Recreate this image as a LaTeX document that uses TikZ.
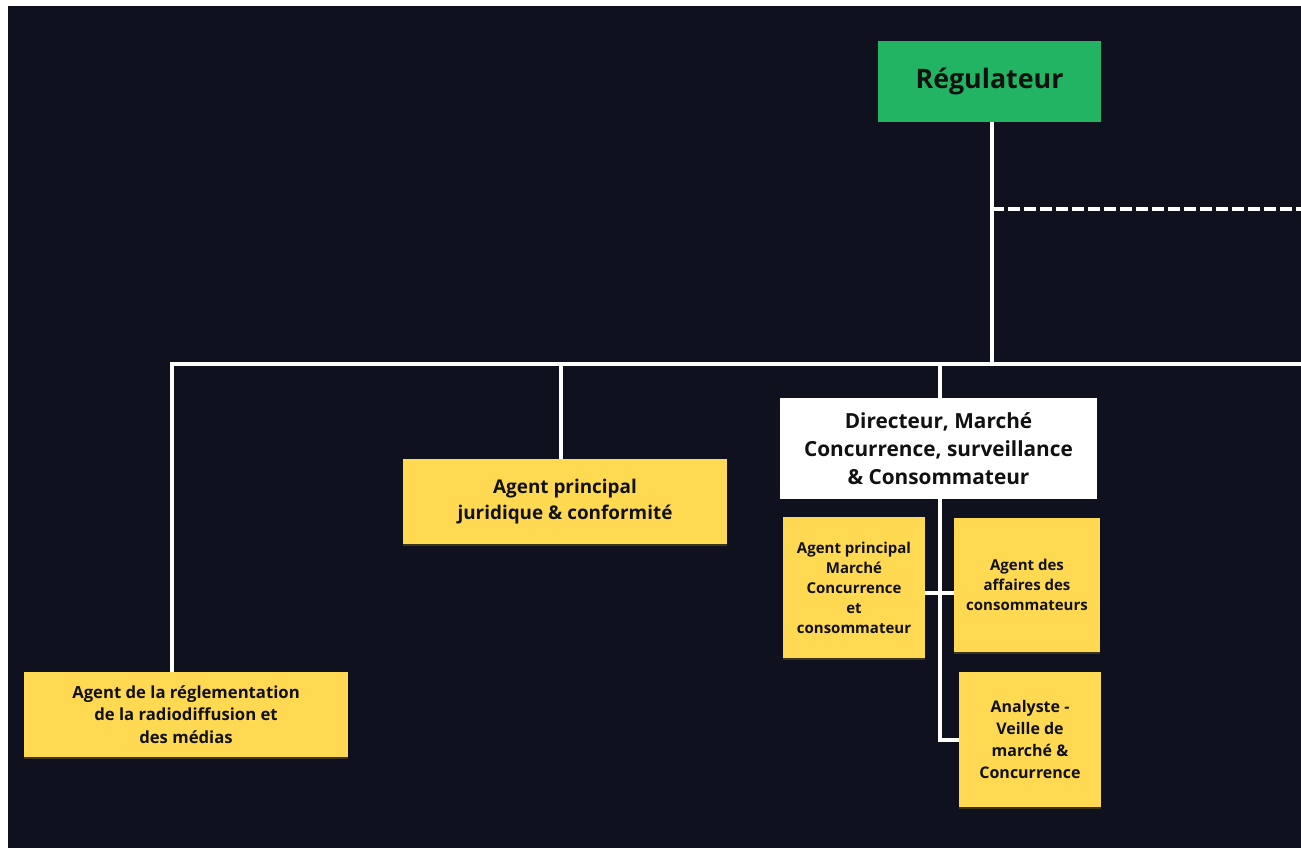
\documentclass[tikz,border=0pt]{standalone}
\usepackage{fontspec}
\setmainfont{Open Sans}
\usetikzlibrary{shadows}
\definecolor{bgdark}{HTML}{10111F}
\definecolor{reggreen}{HTML}{22B463}
\definecolor{boxyellow}{HTML}{FFD952}
\definecolor{txt}{HTML}{111111}
\begin{document}
\begin{tikzpicture}[x=1pt,y=-1pt,
  conn/.style={draw=white,line width=4pt},
  dashconn/.style={draw=white,line width=4pt,dash pattern=on 12pt off 4pt},
  box/.style={rectangle,inner sep=0pt,align=center,text=txt,font=\bfseries},
  ybox/.style={box,fill=boxyellow,drop shadow={shadow xshift=0pt,shadow yshift=-2pt,fill=boxyellow!35!black,opacity=0.6}},
]
\fill[white] (0,0) rectangle (1301,848);
\fill[bgdark] (8,6) rectangle (1301,848);
\useasboundingbox (0,0) rectangle (1301,848);

% coordinates for connectors
\coordinate (j0) at (992,364);
\coordinate (jl) at (172,364);
\coordinate (jm) at (561,364);
\coordinate (jd) at (940,364);
\coordinate (jr) at (1301,364);
\coordinate (dd) at (992,209);
\coordinate (dr) at (1301,209);
\coordinate (jb) at (940,740);

% nodes (geometry only first, for connectors drawn beneath)
\path node[box,minimum width=223pt,minimum height=81pt] (reg) at (989.5,81.5) {};
\path node[box,minimum width=317pt,minimum height=101pt] (dir) at (938.5,448.5) {};
\path node[box,minimum width=324pt,minimum height=85pt] (jur) at (565,501.5) {};
\path node[box,minimum width=324pt,minimum height=85pt] (rad) at (186,714.5) {};
\path node[box,minimum width=142pt,minimum height=141pt] (mar) at (854,587.5) {};
\path node[box,minimum width=146pt,minimum height=134pt] (aff) at (1027,585) {};
\path node[box,minimum width=142pt,minimum height=135pt] (ana) at (1030,739.5) {};

% connectors
\draw[conn] (reg.south -| j0) -- (j0);
\draw[dashconn] (dd) -- (dr);
\draw[conn] (rad.north -| jl) -- (jl) -- (jr);
\draw[conn] (jm) -- (jur.north -| jm);
\draw[conn] (jd) -- (jb) -- (ana.west |- jb);
\draw[conn] (mar.east |- 0,593) -- (aff.west |- 0,593);

% visible boxes
\node[box,fill=reggreen,minimum width=223pt,minimum height=81pt,font=\bfseries\fontsize{26.8}{32}\selectfont] at (reg) {\raisebox{-2pt}{Régulateur}};
\node[box,fill=white,minimum width=317pt,minimum height=101pt,font=\bfseries\fontsize{20.8}{28}\selectfont] at (dir) {Directeur, Marché\\Concurrence, surveillance\\\& Consommateur};
\node[ybox,minimum width=324pt,minimum height=85pt,font=\bfseries\fontsize{18.9}{26}\selectfont] at (jur) {Agent principal\\juridique \& conformité};
\node[ybox,minimum width=324pt,minimum height=85pt,font=\bfseries\fontsize{16.7}{22.5}\selectfont] at (rad) {Agent de la réglementation\\de la radiodiffusion et\\des médias};
\node[ybox,minimum width=142pt,minimum height=141pt,font=\bfseries\fontsize{15}{20}\selectfont] at (mar) {Agent principal\\Marché\\Concurrence\\et\\consommateur};
\node[ybox,minimum width=146pt,minimum height=134pt,font=\bfseries\fontsize{15}{20}\selectfont] at (aff) {Agent des\\affaires des\\consommateurs};
\node[ybox,minimum width=142pt,minimum height=135pt,font=\bfseries\fontsize{16}{22.3}\selectfont] at (ana) {Analyste -\\Veille de\\marché \&\\Concurrence};
\end{tikzpicture}
\end{document}
